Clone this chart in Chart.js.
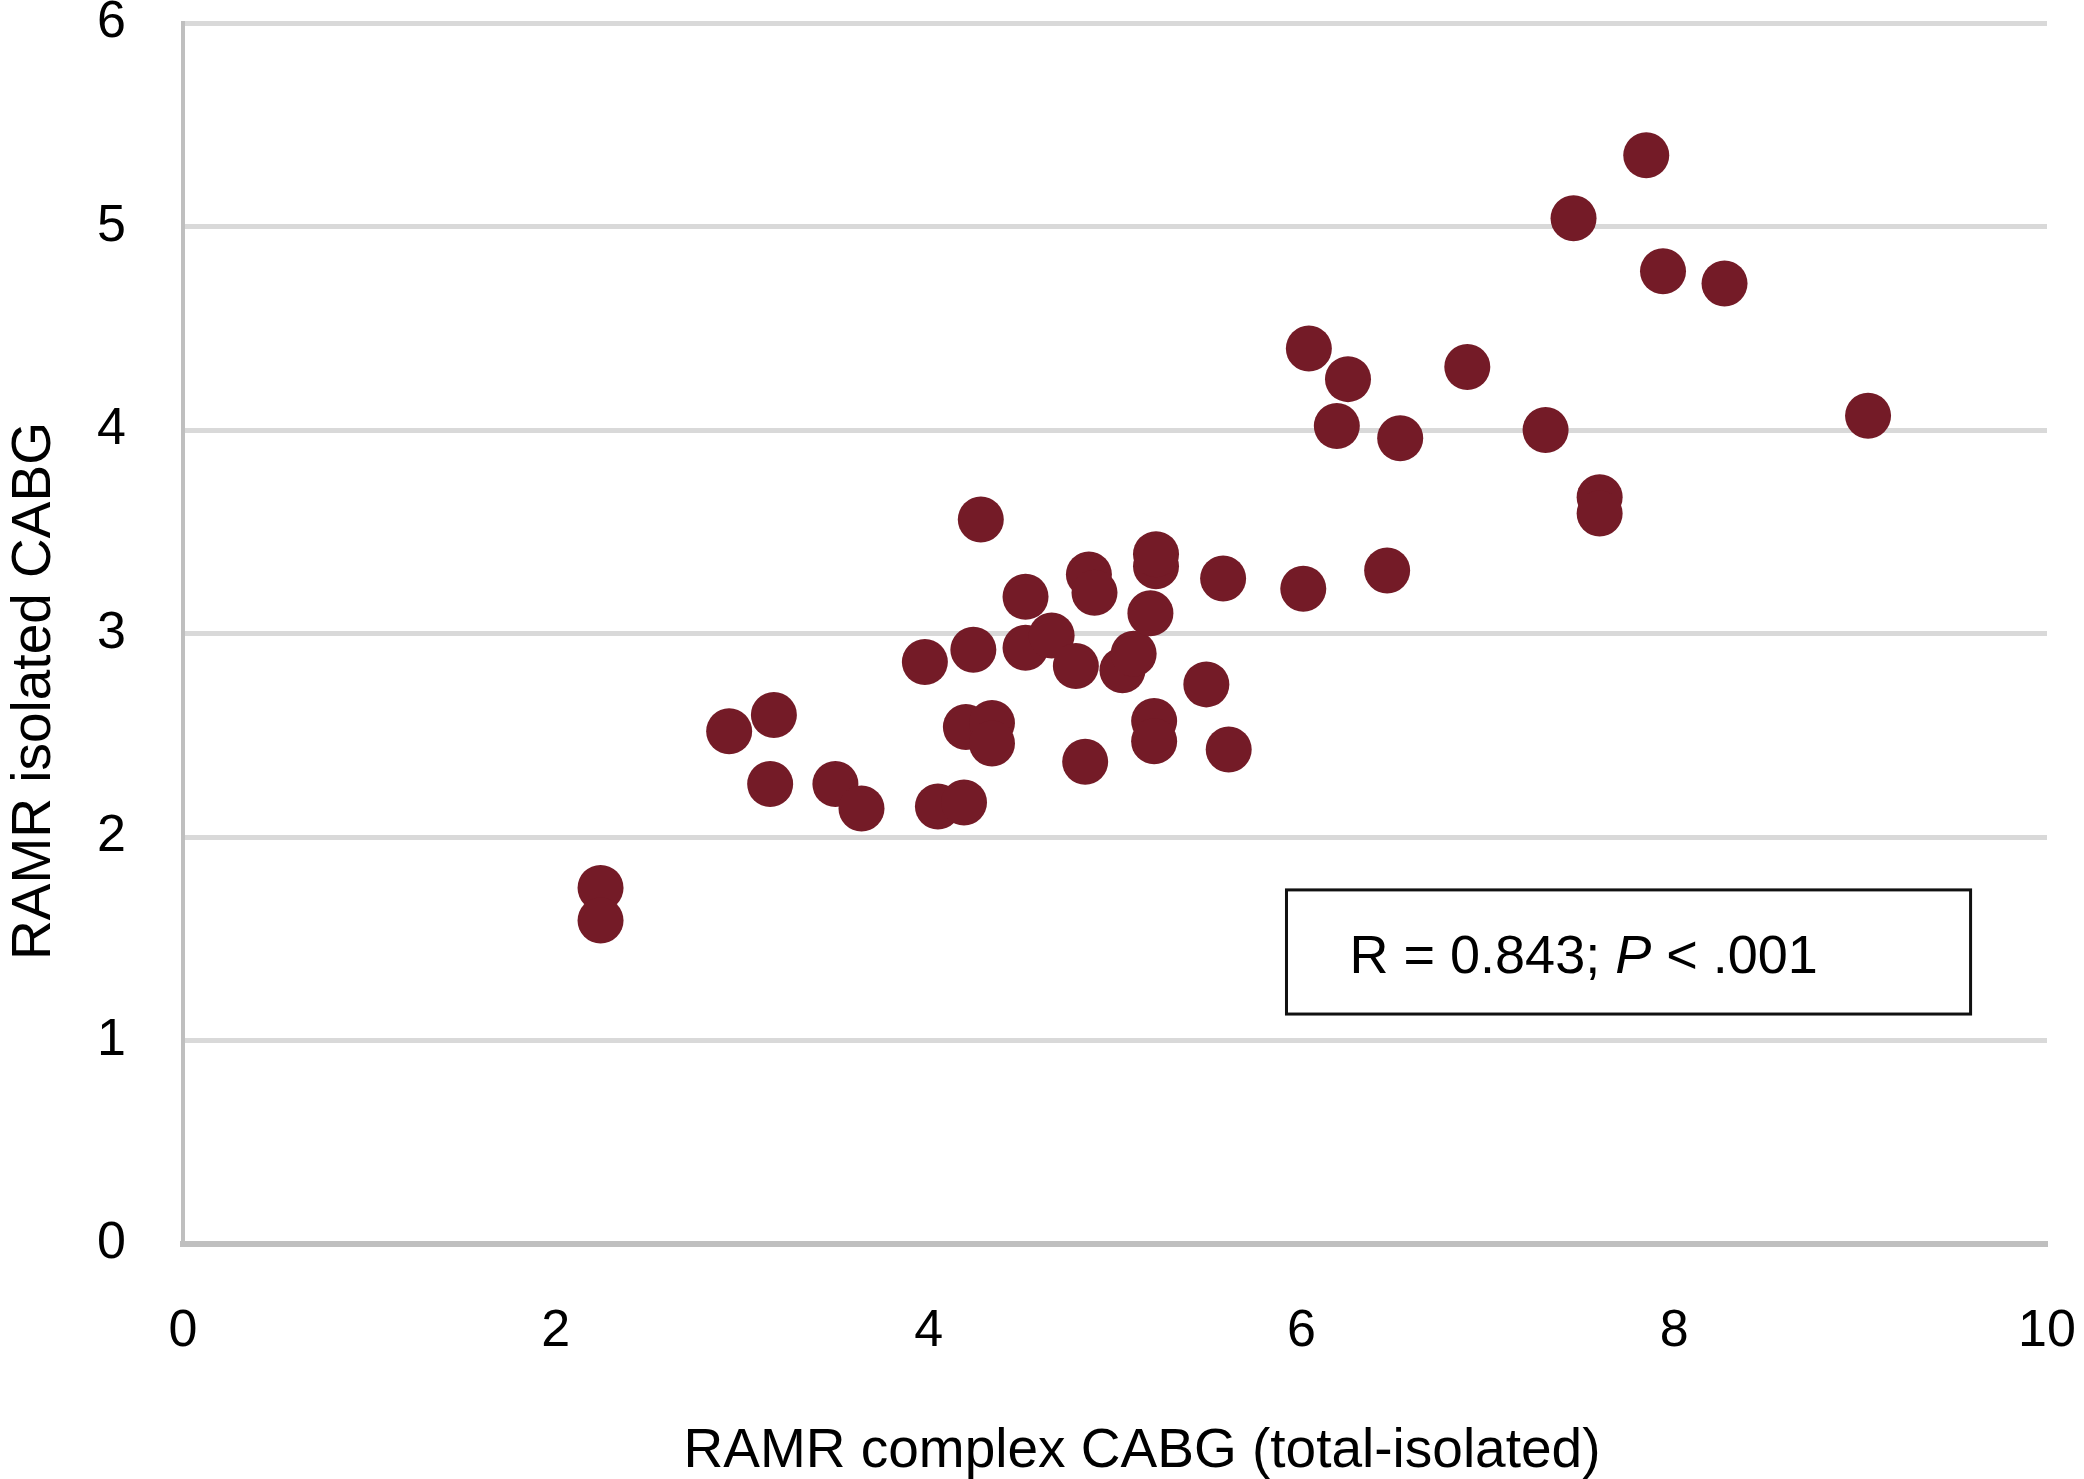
<!DOCTYPE html>
<html>
<head>
<meta charset="utf-8">
<script src="https://cdn.jsdelivr.net/npm/chart.js@4.4.1/dist/chart.umd.min.js"></script>
<style>
  html, body { margin: 0; padding: 0; background: #fff; }
  canvas { display: block; }
</style>
</head>
<body>
<canvas id="canvas" width="2084" height="1479"></canvas>
<script>
// RAMR complex CABG (total-isolated) vs RAMR isolated CABG
var xValues = [2.24, 2.24, 2.93, 3.17, 3.15, 3.50, 3.64, 3.98, 4.05, 4.19,
               4.20, 4.24, 4.28, 4.34, 4.34, 4.52, 4.52, 4.66, 4.79, 4.84,
               4.86, 4.89, 5.04, 5.10, 5.19, 5.22, 5.22, 5.21, 5.21, 5.49,
               5.58, 5.61, 6.01, 6.04, 6.25, 6.19, 6.46, 6.53, 6.89, 7.31,
               7.46, 7.60, 7.60, 7.85, 7.94, 8.27, 9.04];
var yValues = [1.75, 1.59, 2.52, 2.60, 2.26, 2.26, 2.14, 2.86, 2.15, 2.17,
               2.54, 2.92, 3.56, 2.56, 2.46, 3.18, 2.93, 2.99, 2.84, 2.37,
               3.29, 3.20, 2.82, 2.90, 3.10, 3.33, 3.39, 2.57, 2.47, 2.75,
               3.27, 2.43, 3.22, 4.40, 4.25, 4.02, 3.31, 3.96, 4.31, 4.00,
               5.04, 3.67, 3.59, 5.35, 4.78, 4.72, 4.07];
var xTicks = [0, 2, 4, 6, 8, 10];
var yTicks = [0, 1, 2, 3, 4, 5, 6];

var xTitle = 'RAMR complex CABG (total-isolated)';
var yTitle = 'RAMR isolated CABG';
var statText = ['R = 0.843; ', 'P', ' < .001'];
// box corners in data units
var statBox = { x0: 5.92, x1: 9.59, y0: 1.13, y1: 1.74 };

var FONT = '"Liberation Sans", Arial, Helvetica, sans-serif';

var points = [];
for (var i = 0; i < xValues.length; i++) {
  points.push({ x: xValues[i], y: yValues[i] });
}

var extras = {
  id: 'extras',
  afterDraw: function(chart) {
    var ctx = chart.ctx;
    var xs = chart.scales.x, ys = chart.scales.y;
    ctx.save();
    ctx.fillStyle = '#000';

    // axis titles
    ctx.font = '55px ' + FONT;
    ctx.textAlign = 'center';
    ctx.textBaseline = 'alphabetic';
    ctx.fillText(xTitle, 1142, 1467);

    ctx.save();
    ctx.translate(50, 691);
    ctx.rotate(-Math.PI / 2);
    ctx.fillText(yTitle, 0, 0);
    ctx.restore();

    // stat box
    var left = xs.getPixelForValue(statBox.x0);
    var right = xs.getPixelForValue(statBox.x1);
    var top = ys.getPixelForValue(statBox.y1);
    var bottom = ys.getPixelForValue(statBox.y0);
    ctx.fillStyle = '#fff';
    ctx.fillRect(left, top, right - left, bottom - top);
    ctx.strokeStyle = '#111';
    ctx.lineWidth = 3;
    ctx.strokeRect(left, top, right - left, bottom - top);

    ctx.fillStyle = '#000';
    ctx.textAlign = 'left';
    var tx = left + 63;
    var ty = (top + bottom) / 2 + 21;
    for (var k = 0; k < statText.length; k++) {
      ctx.font = (k === 1 ? 'italic ' : '') + '54px ' + FONT;
      ctx.fillText(statText[k], tx, ty);
      tx += ctx.measureText(statText[k]).width;
    }
    ctx.restore();
  }
};

var ctx = document.getElementById('canvas').getContext('2d');
window.myChart = new Chart(ctx, {
  type: 'scatter',
  data: {
    datasets: [{
      label: 'RAMR',
      data: points,
      backgroundColor: '#741b27',
      borderWidth: 0,
      pointRadius: 23,
      pointHoverRadius: 23
    }]
  },
  options: {
    responsive: false,
    animation: false,
    devicePixelRatio: 1,
    layout: { padding: { left: 0, right: 37, top: 23, bottom: 0 } },
    plugins: {
      legend: { display: false },
      tooltip: { enabled: false }
    },
    scales: {
      x: {
        type: 'linear',
        min: xTicks[0],
        max: xTicks[xTicks.length - 1],
        afterBuildTicks: function(scale) {
          scale.ticks = xTicks.map(function(v) { return { value: v }; });
        },
        afterFit: function(scale) {
          scale.height = 235;
          scale.paddingLeft = 0;
          scale.paddingRight = 0;
        },
        grid: { display: false, drawTicks: false },
        border: { display: true, color: '#bfbfbf', width: 6 },
        ticks: {
          color: '#000',
          font: { family: FONT, size: 52 },
          padding: 56,
          maxRotation: 0
        }
      },
      y: {
        type: 'linear',
        min: yTicks[0],
        max: yTicks[yTicks.length - 1],
        afterBuildTicks: function(scale) {
          scale.ticks = yTicks.map(function(v) { return { value: v }; });
        },
        afterFit: function(scale) {
          scale.width = 183;
          scale.paddingTop = 0;
          scale.paddingBottom = 0;
        },
        grid: { color: '#d9d9d9', lineWidth: 5, drawTicks: false },
        border: { display: true, color: '#bfbfbf', width: 4 },
        ticks: {
          color: '#000',
          font: { family: FONT, size: 52 },
          padding: 57
        }
      }
    }
  },
  plugins: [extras]
});
</script>
</body>
</html>
